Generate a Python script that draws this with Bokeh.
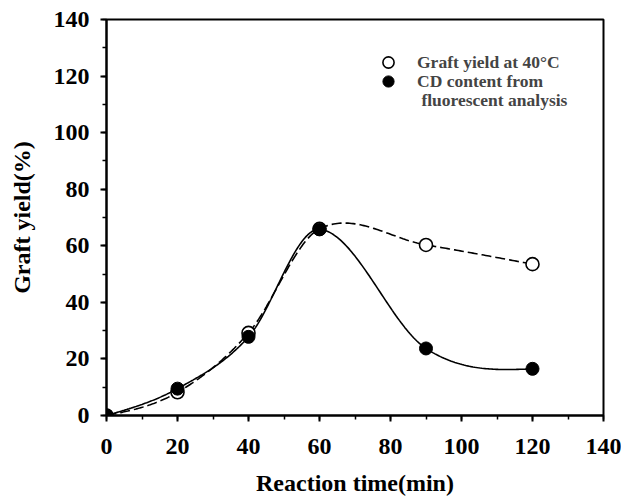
import numpy as np
from bokeh.plotting import figure
from bokeh.models import Range1d, Legend, LegendItem, FixedTicker
from bokeh.embed import file_html
from bokeh.resources import INLINE

# data
time_min = [0, 20, 40, 60, 90, 120]
graft_yield = [0, 8.2, 29.2, 66.0, 60.3, 53.5]
cd_content = [0, 9.5, 27.8, 65.8, 23.7, 16.5]
x_ticks = [0, 20, 40, 60, 80, 100, 120, 140]
y_ticks = [0, 20, 40, 60, 80, 100, 120, 140]
minor_ticks = [0, 10, 20, 30, 40, 50, 60, 70, 80, 90, 100, 110, 120, 130, 140]
legend_labels = ["Graft yield at 40°C", "CD content from", " fluorescent analysis"]


def smooth_curve(x, y, per_seg=60):
    """Cubic Hermite curve through the data points (finite-difference tangents,
    natural end conditions)."""
    x = np.asarray(x, float)
    y = np.asarray(y, float)
    k = len(x)
    m = np.zeros(k)
    for i in range(1, k - 1):
        m[i] = (y[i + 1] - y[i - 1]) / (x[i + 1] - x[i - 1])
    s0 = (y[1] - y[0]) / (x[1] - x[0])
    s1 = (y[-1] - y[-2]) / (x[-1] - x[-2])
    m[0] = 1.5 * s0 - 0.5 * m[1]
    m[-1] = 1.5 * s1 - 0.5 * m[-2]
    xs, ys = [], []
    for i in range(k - 1):
        h = x[i + 1] - x[i]
        t = np.linspace(0, 1, per_seg, endpoint=(i == k - 2))
        h00 = 2 * t ** 3 - 3 * t ** 2 + 1
        h10 = t ** 3 - 2 * t ** 2 + t
        h01 = -2 * t ** 3 + 3 * t ** 2
        h11 = t ** 3 - t ** 2
        xs.extend(x[i] + t * h)
        ys.extend(h00 * y[i] + h10 * h * m[i] + h01 * y[i + 1] + h11 * h * m[i + 1])
    return xs, ys


FONT = "Liberation Serif"

p = figure(width=621, height=499, output_backend="svg", toolbar_location=None,
           x_range=Range1d(0, 140), y_range=Range1d(0, 140),
           min_border_left=106, min_border_right=18, min_border_top=19,
           min_border_bottom=84)
p.grid.visible = False
p.outline_line_color = "black"
p.outline_line_width = 2
p.background_fill_color = "white"
p.border_fill_color = "white"

for ax, tk in ((p.xaxis[0], x_ticks), (p.yaxis[0], y_ticks)):
    ax.ticker = FixedTicker(ticks=tk, minor_ticks=minor_ticks)
    ax.axis_line_width = 2
    ax.major_tick_line_width = 2
    ax.minor_tick_line_width = 1.5
    ax.major_tick_out = 6
    ax.major_tick_in = 0
    ax.minor_tick_out = 4
    ax.minor_tick_in = 0
    ax.major_label_text_font = FONT
    ax.major_label_text_font_style = "bold"
    ax.major_label_text_font_size = "24px"
    ax.major_label_text_color = "black"
    ax.axis_label_text_font = FONT
    ax.axis_label_text_font_style = "bold"
    ax.axis_label_text_font_size = "24px"
    ax.axis_label_text_color = "black"

p.xaxis.axis_label = "Reaction time(min)"
p.yaxis.axis_label = "Graft yield(%)"
p.xaxis.major_label_standoff = 17
p.yaxis.major_label_standoff = 11
p.xaxis.axis_label_standoff = 13
p.yaxis.axis_label_standoff = 16

gx, gy = smooth_curve(time_min, graft_yield)
cx, cy = smooth_curve(time_min, cd_content)

p.line(gx, gy, line_color="black", line_width=1.6, line_dash="10 4")
p.line(cx, cy, line_color="black", line_width=1.6)
r_open = p.scatter(time_min, graft_yield, size=13, marker="circle",
                   fill_color="white", line_color="black", line_width=1.6)
r_fill = p.scatter(time_min, cd_content, size=13, marker="circle",
                   fill_color="black", line_color="black")
r_blank = p.scatter([], [], size=13, marker="circle", fill_alpha=0, line_alpha=0)

# one single-row legend per line, so that each line sits at its own height
for lbl, rend, ybot in zip(legend_labels, [r_open, r_fill, r_blank], [339, 320, 301]):
    lg = Legend(items=[LegendItem(label=lbl, renderers=[rend])], location=(268, ybot))
    lg.label_text_font = FONT
    lg.label_text_font_style = "bold"
    lg.label_text_font_size = "17.5px"
    lg.label_standoff = 15
    lg.glyph_width = 28
    lg.glyph_height = 28
    lg.label_height = 19
    lg.spacing = 0
    lg.padding = 0
    lg.margin = 0
    lg.border_line_color = None
    lg.background_fill_alpha = 0
    p.add_layout(lg)

open("out.html", "w").write(file_html(p, INLINE))
